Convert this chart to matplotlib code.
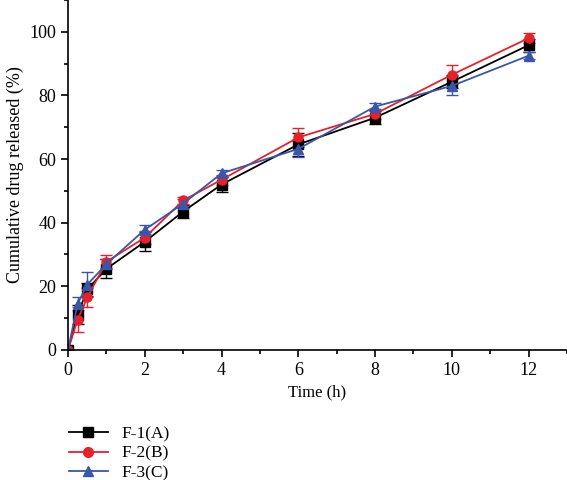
import matplotlib
matplotlib.use("Agg")
import matplotlib.pyplot as plt
from matplotlib.ticker import MultipleLocator
from matplotlib.lines import Line2D

time_h = [0, 0.25, 0.5, 1, 2, 3, 4, 6, 8, 10, 12]
f1 = [0, 11, 19, 25.5, 34, 43.5, 52, 64.6, 73, 84.3, 95.8]
f1_err = [0, 3, 2, 3, 3, 2, 2.5, 3.5, 2, 2, 2]
f2 = [0, 9.5, 16.5, 27.7, 35.3, 47, 53.5, 66.8, 74.2, 86.5, 98]
f2_err = [0, 4, 3, 2, 2, 1, 1.5, 3, 1.5, 3, 1.5]
f3 = [0, 14.5, 20.5, 27, 37.8, 46, 55.5, 63.2, 76.5, 83, 92.5]
f3_err = [0, 2, 4, 1.5, 1.5, 1.5, 1, 2.5, 1, 3, 1]
labels = ["F-1(A)", "F-2(B)", "F-3(C)"]

plt.rcParams['font.family'] = ['Liberation Serif', 'DejaVu Serif']
plt.rcParams['font.size'] = 13

fig = plt.figure(figsize=(5.67, 4.8), dpi=100)
ax = fig.add_axes([0.12, 0.271, 0.88, 0.729])

series = [(f1, f1_err, 'black', 's'), (f2, f2_err, '#e8202a', 'o'), (f3, f3_err, '#3a56a8', '^')]
handles = []
for (vals, err, col, mk), lab in zip(series, labels):
    ax.errorbar(time_h, vals, yerr=err, color=col, marker=mk, markersize=6.5,
                linewidth=1.3, elinewidth=1, capsize=4, capthick=1)
    handles.append(Line2D([], [], color=col, marker=mk, markersize=7, linewidth=1.3, label=lab))

ax.set_xlim(0, 13)
ax.set_ylim(0, 110)
ax.xaxis.set_major_locator(MultipleLocator(2))
ax.xaxis.set_minor_locator(MultipleLocator(1))
ax.yaxis.set_major_locator(MultipleLocator(20))
ax.yaxis.set_minor_locator(MultipleLocator(10))
ax.tick_params(which='both', direction='out', width=1.2, labelsize=13)
ax.tick_params(which='major', length=5)
ax.tick_params(which='minor', length=3)
for s in ['top', 'right']:
    ax.spines[s].set_visible(False)
for s in ['left', 'bottom']:
    ax.spines[s].set_linewidth(1.2)
ax.set_xlabel("Time (h)", fontsize=12, labelpad=4)
ax.set_ylabel("Cumulative drug released (%)", fontsize=13, labelpad=4)

fig.legend(handles=handles, loc='upper left', bbox_to_anchor=(0.11, 0.127), frameon=False,
           handlelength=2.2, labelspacing=0.2, borderaxespad=0, fontsize=12.5, handletextpad=0.8)

fig.savefig("out.png", dpi=100)
